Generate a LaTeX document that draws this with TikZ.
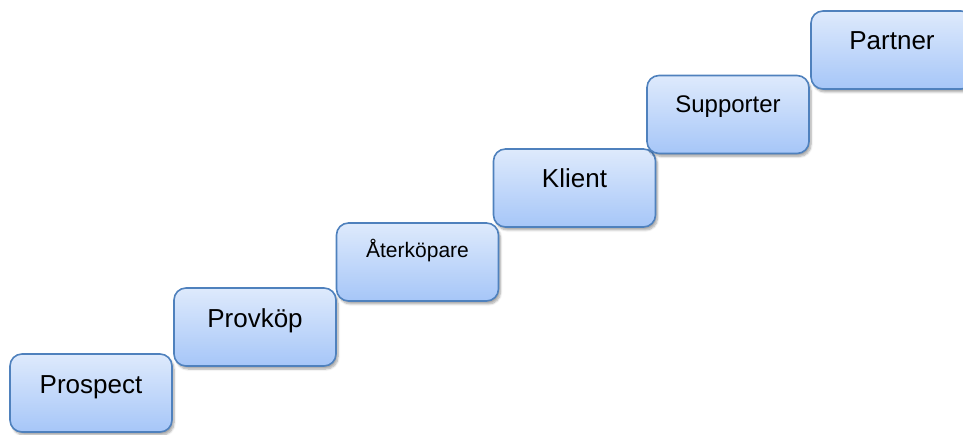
\documentclass[tikz,border=0pt]{standalone}
\usepackage{fontspec}
\setmainfont{Liberation Sans}
\usetikzlibrary{shadows.blur}

\definecolor{stepedge}{RGB}{79,129,189}
\definecolor{steptop}{RGB}{222,234,252}
\definecolor{stepbot}{RGB}{166,198,248}

\tikzset{
  stepbox/.style={draw=stepedge, line width=1.6pt, rounded corners=12pt,
    top color=steptop, bottom color=stepbot,
    minimum width=162pt, minimum height=78pt, inner sep=0pt, outer sep=0pt,
    blur shadow={shadow xshift=2pt, shadow yshift=-3pt, shadow blur steps=6, shadow opacity=35}},
  steplabel/.style={anchor=base, inner sep=0pt, font=\fontsize{26}{30}\selectfont},
}

\begin{document}
\begin{tikzpicture}[x=1pt,y=1pt]

\useasboundingbox (0,0) rectangle (963,434);

% Text sits 39pt below the top edge of each step
\def\dt{-39pt}

% Steps, lowest first so each one lies over the one below
\node[stepbox] (prospect) at (91,41) {};
\node[steplabel] (prospect-txt) at ([yshift=\dt]prospect.north) {Prospect};

\node[stepbox] (provkop) at (255,107) {};
\node[steplabel] (provkop-txt) at ([yshift=\dt]provkop.north) {Provköp};

\node[stepbox] (aterkopare) at (417.5,172) {};
\node[steplabel,font=\fontsize{21}{25}\selectfont] (aterkopare-txt) at ([yshift=-35pt]aterkopare.north) {Återköpare};

\node[stepbox] (klient) at (574.5,246) {};
\node[steplabel] (klient-txt) at ([yshift=\dt]klient.north) {Klient};

\node[stepbox] (supporter) at (728,319.5) {};
\node[steplabel,font=\fontsize{24}{28}\selectfont] (supporter-txt) at ([yshift=-37pt]supporter.north) {Supporter};

\node[stepbox] (partner) at (892,384) {};
\node[steplabel] (partner-txt) at ([yshift=\dt]partner.north) {Partner};

\end{tikzpicture}
\end{document}
